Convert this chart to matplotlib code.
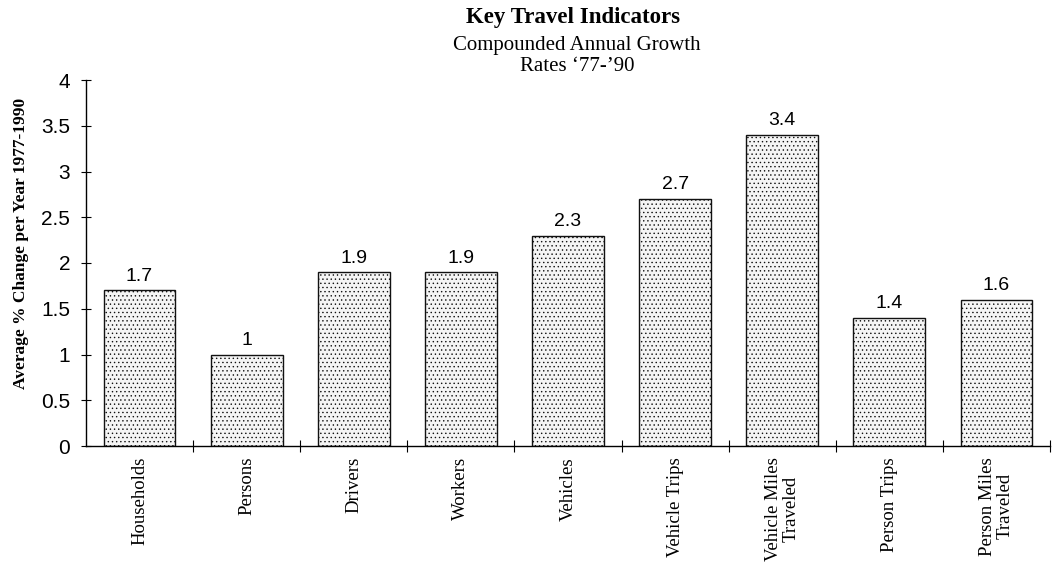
import numpy as np
import matplotlib
matplotlib.use("Agg")
import matplotlib.pyplot as plt

categories = ["Households", "Persons", "Drivers", "Workers", "Vehicles",
              "Vehicle Trips", "Vehicle Miles\nTraveled", "Person Trips",
              "Person Miles\nTraveled"]
values = [1.7, 1.0, 1.9, 1.9, 2.3, 2.7, 3.4, 1.4, 1.6]
value_labels = ["1.7", "1", "1.9", "1.9", "2.3", "2.7", "3.4", "1.4", "1.6"]
yticks = [0, 0.5, 1, 1.5, 2, 2.5, 3, 3.5, 4]
ytick_labels = ["0", "0.5", "1", "1.5", "2", "2.5", "3", "3.5", "4"]

plt.rcParams["hatch.color"] = "#b4b4b4"
plt.rcParams["hatch.linewidth"] = 0.5

SERIF = "Liberation Serif"
SANS = "Liberation Sans"

fig = plt.figure(figsize=(10.6, 5.68), dpi=100)
ax = fig.add_axes([86 / 1060, 122 / 568, (1050 - 86) / 1060, (446 - 80) / 568])

x = np.arange(len(categories))
ax.bar(x, values, width=0.67, color="#f5f5f5", edgecolor="#111111",
       linewidth=1.0, hatch="....")

for xi, v, lab in zip(x, values, value_labels):
    ax.text(xi, v + 0.06, lab, ha="center", va="bottom", fontsize=14,
            family=SANS)

ax.set_xlim(-0.5, 8.42)
ax.set_ylim(0, 4)
for s in ["top", "right"]:
    ax.spines[s].set_visible(False)
ax.spines["left"].set_linewidth(1.0)
ax.spines["bottom"].set_linewidth(1.0)

ax.set_yticks(yticks)
ax.set_yticklabels(ytick_labels, family=SANS, fontsize=15)
ax.tick_params(axis="y", direction="inout", length=7, width=0.8, pad=8)

ax.set_xticks(x + 0.5, minor=False)
ax.set_xticklabels([])
ax.tick_params(axis="x", direction="inout", length=8, width=0.8)
for xi, lab in zip(x, categories):
    ax.text(xi, -0.12, lab, rotation=90, ha="center", va="top",
            fontsize=13.5, family=SERIF, multialignment="center",
            transform=ax.transData, clip_on=False, linespacing=1.1)

fig.text(21 / 1060, 1 - 243 / 568, "Average % Change per Year 1977-1990",
         rotation=90, ha="center", va="center", fontsize=12.5,
         fontweight="bold", family=SERIF)

fig.text(573 / 1060, 1 - 18 / 568, "Key Travel Indicators", ha="center",
         va="center", fontsize=16.5, fontweight="bold", family=SERIF)
fig.text(577 / 1060, 1 - 56 / 568, "Compounded Annual Growth\nRates \u201877-\u201990",
         ha="center", va="center", fontsize=15, family=SERIF,
         linespacing=1.1)

fig.savefig("out.png", dpi=100)
